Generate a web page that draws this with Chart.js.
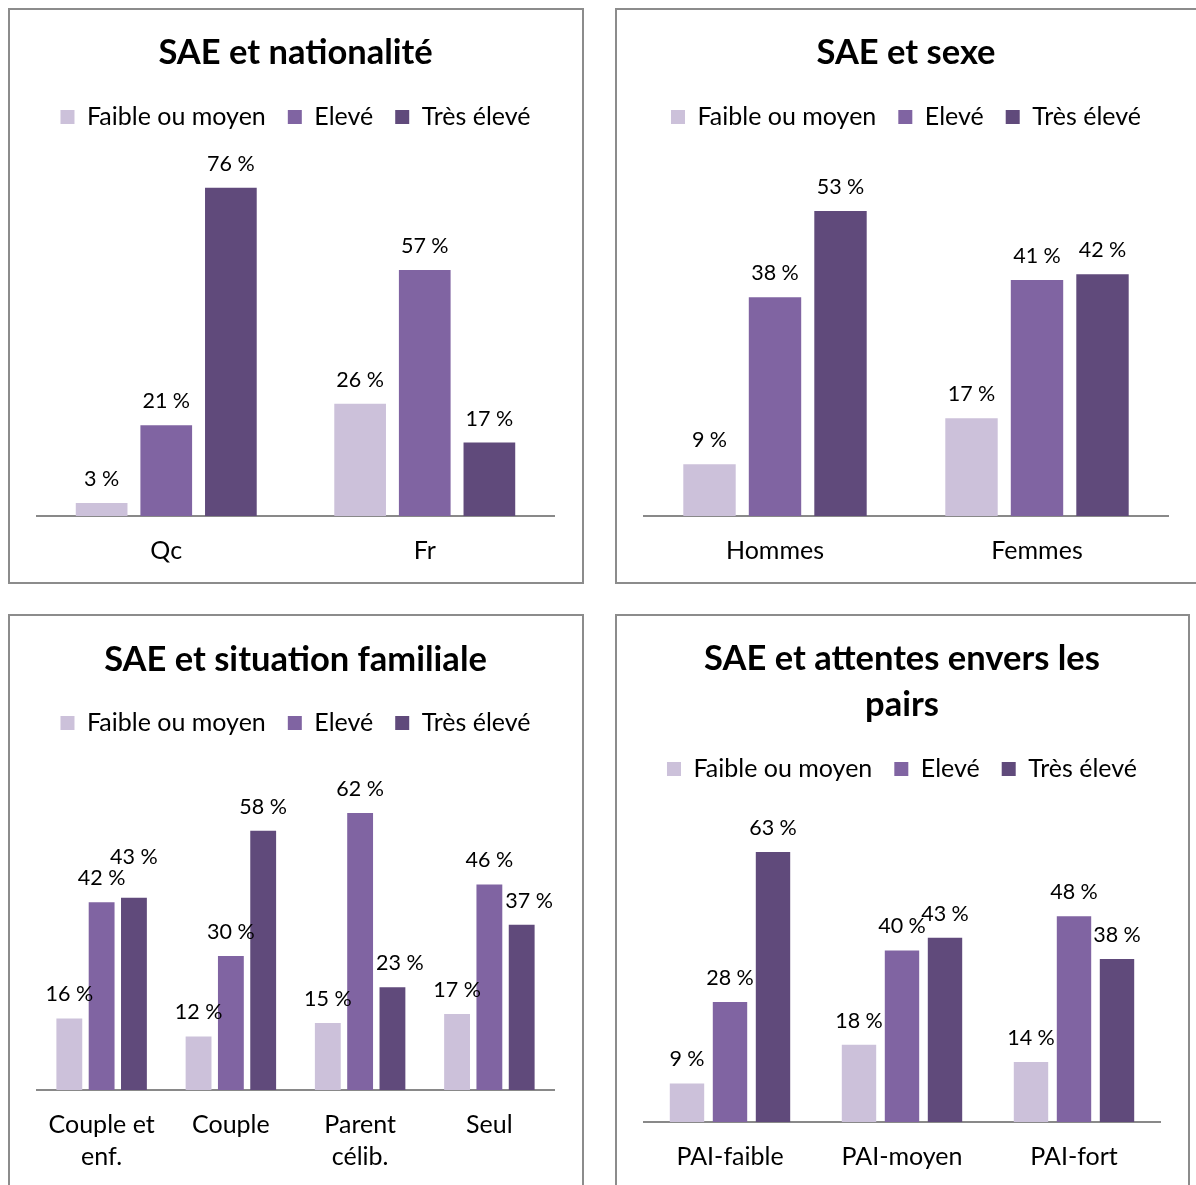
<!DOCTYPE html>
<html>
<head>
<meta charset="utf-8">
<script src="https://cdn.jsdelivr.net/npm/chart.js@4.4.0/dist/chart.umd.min.js"></script>
<style>
  body { margin: 0; background: #fff; width: 1196px; height: 1185px; overflow: hidden; position: relative; }
  .panel { position: absolute; border: 2px solid #8c8c8c; box-sizing: border-box; background: #fff; overflow: hidden; }
  .panel canvas { display: block; }
</style>
</head>
<body>
<div class="panel" style="left:8px;top:8px;width:576px;height:576px"><canvas id="chart1" width="572" height="576"></canvas></div>
<div class="panel" style="left:615px;top:8px;width:584px;height:576px"><canvas id="chart2" width="580" height="576"></canvas></div>
<div class="panel" style="left:8px;top:614px;width:576px;height:580px"><canvas id="chart3" width="572" height="576"></canvas></div>
<div class="panel" style="left:615px;top:614px;width:575px;height:580px"><canvas id="chart4" width="571" height="576"></canvas></div>

<script>
// Series shared by all four charts
const seriesNames = ['Faible ou moyen', 'Elevé', 'Très élevé'];
const seriesColors = ['#CCC1DA', '#8064A2', '#604A7B'];

// SAE et nationalité
const natLabels = ['Qc', 'Fr'];
const natFaible = [3, 26];
const natEleve = [21, 57];
const natTresEleve = [76, 17];

// SAE et sexe
const sexeLabels = ['Hommes', 'Femmes'];
const sexeFaible = [9, 17];
const sexeEleve = [38, 41];
const sexeTresEleve = [53, 42];

// SAE et situation familiale
const famLabels = [['Couple et', 'enf.'], 'Couple', ['Parent', 'célib.'], 'Seul'];
const famFaible = [16, 12, 15, 17];
const famEleve = [42, 30, 62, 46];
const famTresEleve = [43, 58, 23, 37];

// SAE et attentes envers les pairs
const pairLabels = ['PAI-faible', 'PAI-moyen', 'PAI-fort'];
const pairFaible = [9, 18, 14];
const pairEleve = [28, 40, 48];
const pairTresEleve = [63, 43, 38];

const FONT = 'Lato, "Open Sans", sans-serif';

/*
Draws "xx %" above each bar (no datalabels plugin offline).
Like Excel, a label that would sit on the taller bar to its left is pushed right,
and a label that clearly covers its neighbour's label is lifted above it.
*/
const valueLabels = {
  id: 'valueLabels',
  afterDatasetsDraw(chart) {
    const ctx = chart.ctx;
    const h = 22;
    ctx.save();
    ctx.font = '21.5px ' + FONT;
    ctx.fillStyle = '#000';
    ctx.textAlign = 'center';
    ctx.textBaseline = 'middle';
    const metas = chart.data.datasets.map((ds, i) => chart.getDatasetMeta(i));
    chart.data.labels.forEach((cat, j) => {
      let prevLabel = null;
      metas.forEach((meta, i) => {
        const bar = meta.data[j];
        const text = chart.data.datasets[i].data[j] + ' %';
        const w = ctx.measureText(text).width;
        let x = bar.x;
        let y = bar.y - 24;
        if (i > 0) {
          const prevBar = metas[i - 1].data[j];
          const prevRight = prevBar.x + prevBar.width / 2;
          if (prevBar.y < y + h / 2 && x - w / 2 < prevRight) {
            x = prevRight + w / 2 + 3;
          }
        }
        if (prevLabel) {
          const overlapX = (prevLabel.x + prevLabel.w / 2) - (x - w / 2);
          if (overlapX > 6 && Math.abs(prevLabel.y - y) < h) {
            y = prevLabel.y - 21;
          }
        }
        ctx.fillText(text, x, y);
        prevLabel = { x: x, y: y, w: w };
      });
    });
    ctx.restore();
  }
};

function makeChart(id, labels, values, title, titlePad, yMax, padRight) {
  const datasets = values.map((v, i) => ({
    label: seriesNames[i],
    data: v,
    backgroundColor: seriesColors[i],
    categoryPercentage: 0.75,
    barPercentage: 0.8
  }));

  return new Chart(document.getElementById(id), {
    type: 'bar',
    data: { labels: labels, datasets: datasets },
    plugins: [valueLabels],
    options: {
      responsive: false,
      animation: false,
      layout: { padding: { left: 27, right: padRight, top: 0, bottom: 0 } },
      plugins: {
        tooltip: { enabled: false },
        title: {
          display: true,
          text: title,
          color: '#000',
          font: { family: FONT, size: 34.5, weight: 'bold', lineHeight: 46 / 34.5 },
          padding: titlePad
        },
        legend: {
          display: true,
          labels: {
            color: '#000',
            font: { family: FONT, size: 25 },
            boxWidth: 14,
            boxHeight: 14,
            padding: 22
          }
        }
      },
      scales: {
        x: {
          grid: { display: false, drawTicks: false },
          border: { display: true, color: '#898989', width: 2 },
          ticks: {
            color: '#000',
            font: { family: FONT, size: 25, lineHeight: 32 / 25 },
            padding: 19,
            maxRotation: 0,
            autoSkip: false
          }
        },
        y: {
          display: false,
          min: 0,
          max: yMax
        }
      }
    }
  });
}

makeChart('chart1', natLabels, [natFaible, natEleve, natTresEleve], 'SAE et nationalité',
  { top: 20, bottom: 6.5 }, 87.2, 28);
makeChart('chart2', sexeLabels, [sexeFaible, sexeEleve, sexeTresEleve], 'SAE et sexe',
  { top: 20, bottom: 6.5 }, 65.4, 29);
makeChart('chart3', famLabels, [famFaible, famEleve, famTresEleve], 'SAE et situation familiale',
  { top: 21, bottom: 5.5 }, 77.1, 28);
makeChart('chart4', pairLabels, [pairFaible, pairEleve, pairTresEleve], ['SAE et attentes envers les', 'pairs'],
  { top: 20, bottom: 6.5 }, 77.1, 28);
</script>
</body>
</html>
